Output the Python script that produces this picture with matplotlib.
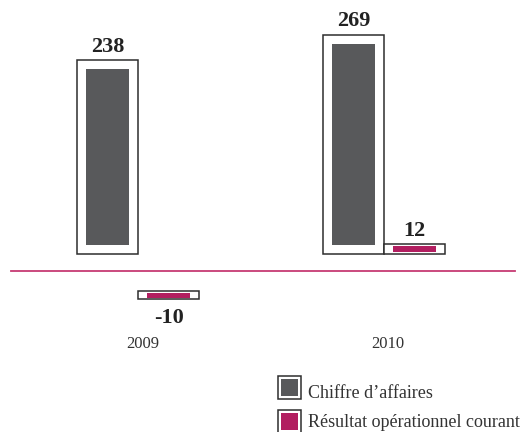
import matplotlib
matplotlib.use('Agg')
import matplotlib.pyplot as plt
from matplotlib.patches import Rectangle
from matplotlib.transforms import blended_transform_factory
import numpy as np

# ---- data ----
years = ['2009', '2010']
series_names = ['Chiffre d\u2019affaires', 'R\u00e9sultat op\u00e9rationnel courant']
chiffre_affaires = [238, 269]
resultat_op = [-10, 12]
colors = ['#58595b', '#b21e60']

plt.rcParams['font.family'] = ['Liberation Serif', 'DejaVu Serif']

W, H = 528, 432
fig = plt.figure(figsize=(W / 100, H / 100), dpi=100)
ax = fig.add_axes([0, 0, 1, 1])
ax.axis('off')

group_px = 245.9
x0_px = 138.3
scale = 0.817
zero_px = 254.3
ax.set_xlim(-x0_px / group_px, (W - x0_px) / group_px)
ax.set_ylim(-(H - zero_px) / scale, zero_px / scale)

outer_w = 61 / group_px
inner_w = 43 / group_px
neg_offset = -45
edge = '#2d2d2d'
x = np.arange(len(years))

for j, (vals, col) in enumerate(zip([chiffre_affaires, resultat_op], colors)):
    xs = x + (j - 0.5) * outer_w
    for xi, v in zip(xs, vals):
        bottom = 0 if v >= 0 else neg_offset
        ax.bar(xi, v, width=outer_w, bottom=bottom, facecolor='white',
               edgecolor=edge, linewidth=1.1, zorder=2)
        pad = min(11, 0.2 * abs(v)) * np.sign(v)
        ax.bar(xi, v - 2 * pad, width=inner_w, bottom=bottom + pad,
               color=col, linewidth=0, zorder=3)
        if v >= 0:
            ax.annotate(str(v), (xi, bottom + v), xytext=(0, 6),
                        textcoords='offset points', ha='center', va='baseline',
                        fontsize=16, fontweight='bold', color='#222222')
        else:
            ax.annotate(str(v), (xi, bottom + v), xytext=(0, -17.3),
                        textcoords='offset points', ha='center', va='baseline',
                        fontsize=16, fontweight='bold', color='#222222')

# separator line
ax.axhline(-20, xmin=11.3 / W, xmax=515 / W, color='#c63a73', lw=1.3, zorder=1)

# year labels
bt = blended_transform_factory(ax.transData, fig.transFigure)
for xi, yr in zip(x, years):
    ax.text(xi + 4 / group_px, 1 - 348.3 / H, yr, transform=bt, ha='center',
            va='baseline', fontsize=12, color='#333333')

# legend
sq = 23
inset = 3
tops = [376, 409.5]
baselines = [397.5, 427]
for name, col, top, bl in zip(series_names, colors, tops, baselines):
    fig.patches.append(Rectangle((277.5 / W, 1 - (top + sq) / H), sq / W, sq / H,
                                 transform=fig.transFigure, facecolor='white',
                                 edgecolor=edge, linewidth=1.1))
    fig.patches.append(Rectangle(((277.5 + inset) / W, 1 - (top + sq - inset) / H),
                                 (sq - 2 * inset) / W, (sq - 2 * inset) / H,
                                 transform=fig.transFigure, facecolor=col,
                                 linewidth=0))
    fig.text(307.5 / W, 1 - bl / H, name, ha='left', va='baseline',
             fontsize=13, color='#333333')

fig.savefig('out.png', dpi=100)
